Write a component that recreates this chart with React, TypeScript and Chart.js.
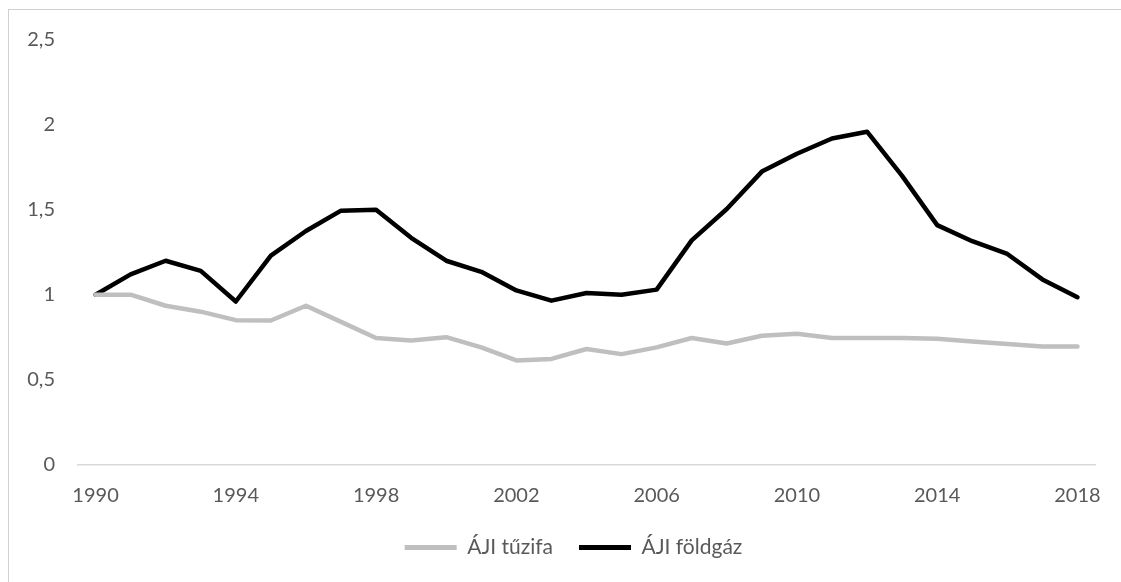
import React, { useEffect, useRef } from 'react';
import { Chart, registerables } from 'chart.js';

Chart.register(...registerables);

const years = [
  '1990', '1991', '1992', '1993', '1994', '1995', '1996', '1997', '1998', '1999',
  '2000', '2001', '2002', '2003', '2004', '2005', '2006', '2007', '2008', '2009',
  '2010', '2011', '2012', '2013', '2014', '2015', '2016', '2017', '2018',
];

const tuzifa = [
  1.0, 1.0, 0.935, 0.9, 0.85, 0.848, 0.935, 0.84, 0.745, 0.73,
  0.75, 0.69, 0.613, 0.622, 0.68, 0.65, 0.69, 0.745, 0.713, 0.758,
  0.77, 0.745, 0.745, 0.745, 0.74, 0.725, 0.71, 0.695, 0.695,
];

const foldgaz = [
  1.0, 1.12, 1.2, 1.14, 0.96, 1.23, 1.375, 1.495, 1.5, 1.335,
  1.2, 1.135, 1.025, 0.965, 1.01, 1.0, 1.03, 1.32, 1.505, 1.725,
  1.83, 1.92, 1.96, 1.7, 1.41, 1.315, 1.24, 1.09, 0.985,
];

const seriesNames = ['ÁJI tűzifa', 'ÁJI földgáz'];
const seriesColors = ['#bfbfbf', '#000000'];
const yTickValues = [0, 0.5, 1, 1.5, 2, 2.5];
const labelEvery = 4;

const legendShift = {
  id: 'legendShift',
  afterLayout(chart: any) {
    const lg = chart.legend;
    if (lg) {
      lg.left += 21;
      lg.right += 21;
    }
  },
};

export default function App() {
  const canvasRef = useRef<HTMLCanvasElement | null>(null);

  useEffect(() => {
    document.documentElement.style.overflow = 'hidden';
    document.body.style.overflow = 'hidden';
    const canvas = canvasRef.current;
    if (!canvas) return;
    const font = { family: 'Lato', size: 20 };
    const chart = new Chart(canvas, {
      type: 'line',
      data: {
        labels: years,
        datasets: [
          {
            label: seriesNames[0],
            data: tuzifa,
            borderColor: seriesColors[0],
            backgroundColor: seriesColors[0],
            borderWidth: 4.5,
            pointRadius: 0,
            tension: 0,
            borderJoinStyle: 'round',
            borderCapStyle: 'round',
          },
          {
            label: seriesNames[1],
            data: foldgaz,
            borderColor: seriesColors[1],
            backgroundColor: seriesColors[1],
            borderWidth: 4.5,
            pointRadius: 0,
            tension: 0,
            borderJoinStyle: 'round',
            borderCapStyle: 'round',
          },
        ],
      },
      plugins: [legendShift],
      options: {
        animation: false,
        responsive: true,
        maintainAspectRatio: false,
        layout: { padding: { top: 0, left: 0, right: 36, bottom: 23.5 } },
        plugins: {
          tooltip: { enabled: false },
          legend: {
            position: 'bottom',
            labels: {
              boxWidth: 52,
              boxHeight: 5,
              padding: 26,
              color: '#595959',
              font: { family: 'Lato', size: 21 },
              generateLabels: (ch: any) =>
                ch.data.datasets.map((ds: any, i: number) => ({
                  text: ds.label,
                  fillStyle: ds.borderColor,
                  strokeStyle: ds.borderColor,
                  lineWidth: 0,
                  hidden: false,
                  datasetIndex: i,
                  fontColor: '#595959',
                })),
            },
          },
        },
        scales: {
          x: {
            type: 'category',
            offset: true,
            grid: { display: false, drawTicks: false },
            border: { display: true, color: '#d9d9d9', width: 1.5 },
            ticks: {
              autoSkip: false,
              maxRotation: 0,
              padding: 19,
              color: '#595959',
              font,
              callback: (_v: any, i: number) => (i % labelEvery === 0 ? years[i] : ''),
            },
            afterFit: (scale: any) => {
              scale.height = 46.5;
            },
          },
          y: {
            min: 0,
            max: 2.5,
            grid: { display: false, drawTicks: false },
            border: { display: false },
            afterBuildTicks: (scale: any) => {
              scale.ticks = yTickValues.map((v) => ({ value: v }));
            },
            ticks: {
              padding: 23,
              color: '#595959',
              font,
              callback: (v: any) => String(v).replace('.', ','),
            },
            afterFit: (scale: any) => {
              scale.width = 68;
            },
          },
        },
      },
    });
    return () => chart.destroy();
  }, []);

  return (
    <div>
      <div
        style={{
          position: 'absolute',
          left: 8,
          top: 9,
          width: 1125,
          height: 600,
          border: '1px solid #d0d0d0',
          boxSizing: 'border-box',
          background: '#fff',
        }}
      />
      <div style={{ position: 'absolute', left: 10, top: 4.5, width: 1121, height: 586.5 }}>
        <canvas ref={canvasRef} />
      </div>
    </div>
  );
}
